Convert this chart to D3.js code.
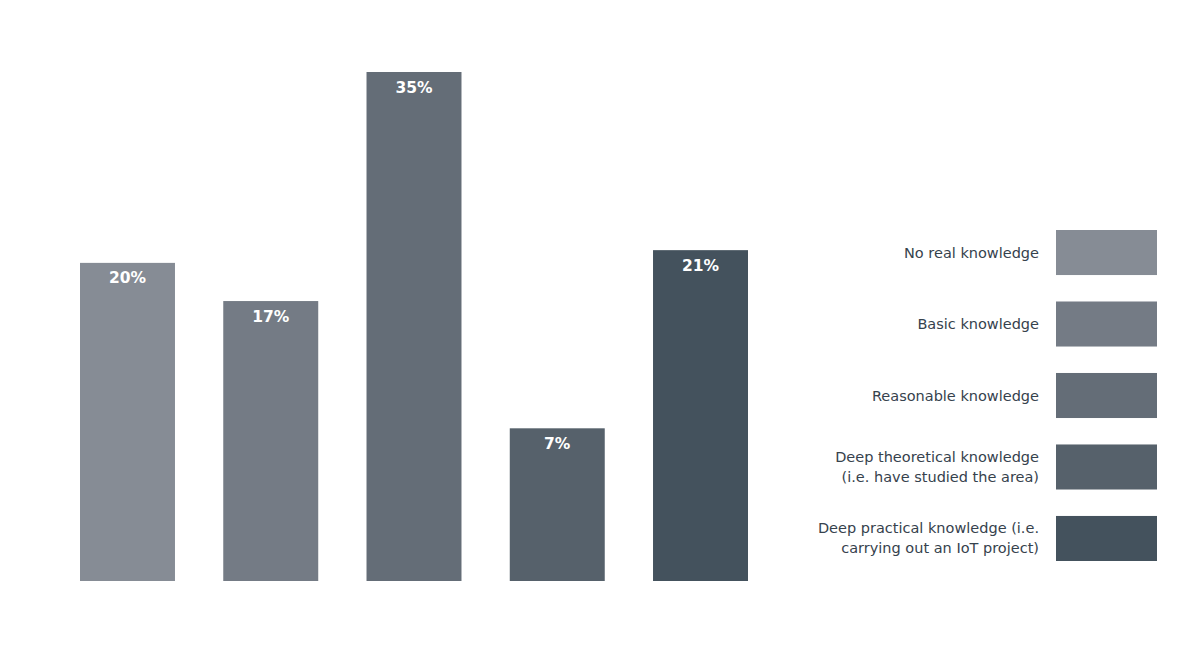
<!DOCTYPE html>
<html><head><meta charset="utf-8">
<script src="https://cdn.jsdelivr.net/npm/d3@7"></script>
<style>body{margin:0;background:#fff;}svg{display:block;}</style>
</head><body>
<svg id="chart" width="1200" height="650"></svg>
<script>
const categories = ["No real knowledge","Basic knowledge","Reasonable knowledge","Deep theoretical knowledge (i.e. have studied the area)","Deep practical knowledge (i.e. carrying out an IoT project)"];
const legendLines = [["No real knowledge"],["Basic knowledge"],["Reasonable knowledge"],["Deep theoretical knowledge","(i.e. have studied the area)"],["Deep practical knowledge (i.e.","carrying out an IoT project)"]];
const values = [20,17,35,7,21];
const colors = ["#868c95","#747b85","#646d77","#56616b","#44525d"];

const svg = d3.select("#chart");
const x = d3.scaleBand().domain(categories).range([80,748]).paddingInner(0.337).paddingOuter(0);
const y = d3.scaleLinear().domain([-5,35]).range([581,72]);

svg.selectAll("rect.bar").data(values).join("rect").attr("class","bar")
  .attr("x",(d,i)=>x(categories[i])).attr("width",x.bandwidth())
  .attr("y",d=>y(d)).attr("height",d=>y(-5)-y(d))
  .attr("fill",(d,i)=>colors[i]);

svg.selectAll("text.val").data(values).join("text").attr("class","val")
  .attr("x",(d,i)=>x(categories[i])+x.bandwidth()/2).attr("y",d=>y(d)+20.5)
  .attr("text-anchor","middle").attr("fill","#fff")
  .attr("font-family","'DejaVu Sans', sans-serif").attr("font-weight","bold").attr("font-size",15.5)
  .text(d=>d+"%");

const ly = d3.scaleBand().domain(categories).range([230,561]).paddingInner(0.37);
const lg = svg.append("g");
categories.forEach((c,i)=>{
  lg.append("rect").attr("x",1056).attr("width",101).attr("y",ly(c)).attr("height",ly.bandwidth()).attr("fill",colors[i]);
  const lines = legendLines[i];
  const cy = ly(c)+ly.bandwidth()/2;
  lines.forEach((t,j)=>{
    lg.append("text").attr("x",1039).attr("y",cy+(j-(lines.length-1)/2)*20+5)
      .attr("text-anchor","end").attr("fill","#36424d")
      .attr("font-family","'DejaVu Sans', sans-serif").attr("font-size",14.5)
      .text(t);
  });
});
</script>
</body></html>
